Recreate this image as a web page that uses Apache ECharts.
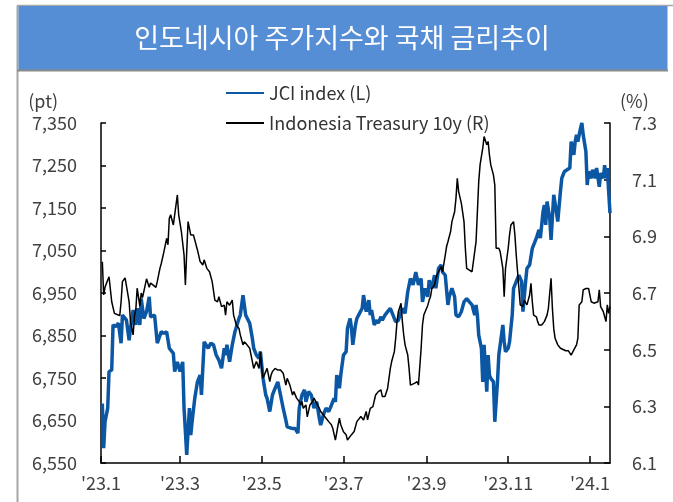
<!DOCTYPE html>
<html>
<head>
<meta charset="utf-8">
<script src="https://cdn.jsdelivr.net/npm/echarts@6/dist/echarts.min.js"></script>
<style>
html,body{margin:0;padding:0;background:#fff;}
#chart{width:673px;height:502px;}
</style>
</head>
<body>
<div id="chart"></div>
<script>
// === 데이터 ===
const TITLE = '인도네시아 주가지수와 국채 금리추이';
const NAME_JCI = 'JCI index (L)';
const NAME_UST = 'Indonesia Treasury 10y (R)';

// x축 눈금 (2개월 간격)
const tickDates = ['2023-01-01','2023-03-01','2023-05-01','2023-07-01','2023-09-01','2023-11-01','2024-01-01'];
const xMin = '2023-01-01', xMax = '2024-01-16';

// 좌축 (pt)
const leftMin = 6550, leftMax = 7350, leftStep = 100;
// 우축 (%)
const rightMin = 6.1, rightMax = 7.3, rightStep = 0.2;

// JCI index
const jci = [
  ['2023-01-02',6690],['2023-01-03',6585],['2023-01-04',6647],['2023-01-06',6679],['2023-01-07',6765],['2023-01-09',6769],
  ['2023-01-10',6875],['2023-01-12',6871],['2023-01-14',6879],['2023-01-16',6832],['2023-01-17',6898],['2023-01-20',6886],
  ['2023-01-22',6839],['2023-01-23',6866],['2023-01-25',6910],['2023-01-27',6875],['2023-01-28',6914],['2023-01-30',6875],
  ['2023-01-31',6937],
  ['2023-02-02',6890],['2023-02-04',6906],['2023-02-06',6941],['2023-02-07',6894],['2023-02-10',6898],['2023-02-12',6832],
  ['2023-02-15',6859],['2023-02-17',6855],['2023-02-19',6859],['2023-02-21',6820],['2023-02-24',6808],['2023-02-25',6765],
  ['2023-02-27',6788],
  ['2023-03-01',6765],['2023-03-03',6788],['2023-03-04',6679],['2023-03-06',6569],['2023-03-08',6679],['2023-03-09',6616],
  ['2023-03-10',6647],['2023-03-12',6702],['2023-03-14',6741],['2023-03-16',6757],['2023-03-17',6710],['2023-03-19',6835],
  ['2023-03-22',6820],['2023-03-24',6832],['2023-03-26',6828],['2023-03-28',6804],['2023-03-30',6792],
  ['2023-04-01',6773],['2023-04-03',6820],['2023-04-04',6804],['2023-04-05',6828],['2023-04-07',6788],['2023-04-09',6828],
  ['2023-04-11',6859],['2023-04-14',6890],['2023-04-15',6898],['2023-04-17',6945],['2023-04-19',6898],['2023-04-22',6879],
  ['2023-04-24',6843],['2023-04-25',6820],['2023-04-27',6804],['2023-04-29',6796],['2023-04-30',6812],
  ['2023-05-02',6749],['2023-05-04',6710],['2023-05-05',6702],['2023-05-07',6671],['2023-05-09',6710],['2023-05-11',6726],
  ['2023-05-13',6741],['2023-05-15',6710],['2023-05-17',6679],['2023-05-19',6651],['2023-05-20',6635],['2023-05-24',6631],
  ['2023-05-26',6631],['2023-05-28',6620],['2023-05-29',6679],['2023-05-31',6710],
  ['2023-06-02',6722],['2023-06-03',6694],['2023-06-05',6718],['2023-06-07',6710],['2023-06-09',6679],['2023-06-11',6694],
  ['2023-06-13',6655],['2023-06-14',6639],['2023-06-16',6663],['2023-06-18',6679],['2023-06-20',6671],['2023-06-22',6686],
  ['2023-06-24',6702],['2023-06-25',6694],['2023-06-26',6757],['2023-06-28',6726],['2023-06-29',6757],
  ['2023-07-01',6804],['2023-07-03',6812],['2023-07-04',6867],['2023-07-06',6890],['2023-07-07',6867],['2023-07-08',6828],
  ['2023-07-10',6875],['2023-07-11',6890],['2023-07-13',6902],['2023-07-15',6914],['2023-07-16',6945],['2023-07-18',6906],
  ['2023-07-20',6933],['2023-07-21',6898],['2023-07-22',6910],['2023-07-24',6875],['2023-07-26',6886],['2023-07-27',6879],
  ['2023-07-29',6894],['2023-07-30',6886],
  ['2023-08-01',6898],['2023-08-03',6906],['2023-08-05',6914],['2023-08-07',6898],['2023-08-09',6882],['2023-08-11',6886],
  ['2023-08-13',6906],['2023-08-14',6914],['2023-08-16',6902],['2023-08-18',6953],['2023-08-20',6984],['2023-08-22',6969],
  ['2023-08-24',6999],['2023-08-26',6969],['2023-08-28',6984],['2023-08-29',6929],['2023-08-31',6961],
  ['2023-09-02',6941],['2023-09-03',6980],['2023-09-05',6961],['2023-09-07',6992],['2023-09-08',6961],['2023-09-10',7008],
  ['2023-09-12',7016],['2023-09-13',6999],['2023-09-15',6992],['2023-09-17',6922],['2023-09-18',6941],['2023-09-20',6961],
  ['2023-09-22',6941],['2023-09-23',6898],['2023-09-25',6894],['2023-09-27',6906],['2023-09-29',6929],
  ['2023-10-01',6937],['2023-10-03',6929],['2023-10-05',6922],['2023-10-07',6898],['2023-10-08',6922],['2023-10-09',6898],
  ['2023-10-10',6851],['2023-10-12',6820],['2023-10-13',6741],['2023-10-14',6828],['2023-10-16',6718],['2023-10-17',6804],
  ['2023-10-18',6757],['2023-10-19',6749],['2023-10-21',6741],['2023-10-22',6647],['2023-10-24',6741],['2023-10-25',6804],
  ['2023-10-27',6851],['2023-10-28',6875],['2023-10-29',6835],['2023-10-30',6812],
  ['2023-11-01',6820],['2023-11-02',6835],['2023-11-04',6898],['2023-11-05',6961],['2023-11-07',6977],['2023-11-09',6992],
  ['2023-11-11',6977],['2023-11-12',6906],['2023-11-14',6977],['2023-11-15',7008],['2023-11-17',7016],['2023-11-19',7055],
  ['2023-11-21',7071],['2023-11-22',7079],['2023-11-24',7099],['2023-11-25',7079],['2023-11-27',7141],['2023-11-28',7157],
  ['2023-11-29',7110],['2023-11-30',7165],
  ['2023-12-02',7126],['2023-12-03',7075],['2023-12-05',7181],['2023-12-07',7141],['2023-12-08',7118],['2023-12-10',7189],
  ['2023-12-11',7220],['2023-12-13',7236],['2023-12-15',7240],['2023-12-17',7244],['2023-12-18',7306],['2023-12-20',7275],
  ['2023-12-21',7306],['2023-12-22',7322],['2023-12-23',7306],['2023-12-25',7338],['2023-12-26',7350],['2023-12-27',7322],
  ['2023-12-29',7283],['2023-12-30',7204],['2023-12-31',7236],
  ['2024-01-02',7220],['2024-01-03',7240],['2024-01-05',7220],['2024-01-06',7244],['2024-01-08',7200],['2024-01-09',7232],
  ['2024-01-11',7220],['2024-01-12',7251],['2024-01-13',7220],['2024-01-14',7244],['2024-01-15',7189],['2024-01-16',7138]
];

// 인도네시아 국채 10년 (%)
const ust = [
  ['2023-01-02',6.810],['2023-01-03',6.693],['2023-01-04',6.720],['2023-01-06',6.746],['2023-01-07',6.757],['2023-01-09',6.669],
  ['2023-01-11',6.628],['2023-01-13',6.624],['2023-01-15',6.620],['2023-01-16',6.669],['2023-01-17',6.740],['2023-01-19',6.753],
  ['2023-01-20',6.757],['2023-01-22',6.669],['2023-01-23',6.599],['2023-01-25',6.552],['2023-01-26',6.620],['2023-01-27',6.642],
  ['2023-01-28',6.717],['2023-01-30',6.654],['2023-01-31',6.700],
  ['2023-02-01',6.684],['2023-02-03',6.728],['2023-02-04',6.750],['2023-02-06',6.720],['2023-02-07',6.735],['2023-02-09',6.728],
  ['2023-02-11',6.720],['2023-02-12',6.740],['2023-02-14',6.787],['2023-02-15',6.804],['2023-02-17',6.846],['2023-02-19',6.893],
  ['2023-02-20',6.870],['2023-02-21',6.964],['2023-02-22',6.976],['2023-02-24',6.940],['2023-02-25',6.976],['2023-02-27',7.046],
  ['2023-02-28',6.976],
  ['2023-03-02',6.917],['2023-03-04',6.834],['2023-03-05',6.728],['2023-03-06',6.846],['2023-03-07',6.952],['2023-03-09',6.905],
  ['2023-03-11',6.905],['2023-03-12',6.899],['2023-03-14',6.852],['2023-03-16',6.811],['2023-03-18',6.799],['2023-03-19',6.817],
  ['2023-03-21',6.787],['2023-03-23',6.775],['2023-03-25',6.740],['2023-03-27',6.675],['2023-03-29',6.669],['2023-03-30',6.687],
  ['2023-04-01',6.652],['2023-04-03',6.657],['2023-04-04',6.622],['2023-04-05',6.669],['2023-04-07',6.657],['2023-04-09',6.675],
  ['2023-04-10',6.622],['2023-04-12',6.587],['2023-04-14',6.575],['2023-04-15',6.552],['2023-04-17',6.517],['2023-04-18',6.528],
  ['2023-04-20',6.517],['2023-04-22',6.505],['2023-04-24',6.458],['2023-04-25',6.434],['2023-04-27',6.458],['2023-04-29',6.434],
  ['2023-04-30',6.493],
  ['2023-05-01',6.434],['2023-05-02',6.399],['2023-05-04',6.423],['2023-05-05',6.434],['2023-05-07',6.387],['2023-05-08',6.411],
  ['2023-05-09',6.423],['2023-05-11',6.434],['2023-05-13',6.428],['2023-05-15',6.428],['2023-05-17',6.417],['2023-05-19',6.375],
  ['2023-05-20',6.399],['2023-05-22',6.375],['2023-05-24',6.340],['2023-05-25',6.352],['2023-05-27',6.329],['2023-05-29',6.317],
  ['2023-05-30',6.305],['2023-05-31',6.317],
  ['2023-06-01',6.293],['2023-06-03',6.305],['2023-06-04',6.263],['2023-06-06',6.305],['2023-06-08',6.317],['2023-06-09',6.329],
  ['2023-06-11',6.311],['2023-06-13',6.293],['2023-06-14',6.282],['2023-06-16',6.270],['2023-06-18',6.258],['2023-06-20',6.246],
  ['2023-06-22',6.235],['2023-06-23',6.223],['2023-06-25',6.181],['2023-06-27',6.235],['2023-06-28',6.258],['2023-06-29',6.235],
  ['2023-07-01',6.210],['2023-07-03',6.200],['2023-07-04',6.181],['2023-07-07',6.200],['2023-07-09',6.211],['2023-07-11',6.246],
  ['2023-07-12',6.240],['2023-07-14',6.264],['2023-07-16',6.252],['2023-07-18',6.282],['2023-07-19',6.252],['2023-07-21',6.293],
  ['2023-07-23',6.299],['2023-07-25',6.340],['2023-07-27',6.352],['2023-07-29',6.358],['2023-07-30',6.335],
  ['2023-08-01',6.335],['2023-08-03',6.364],['2023-08-05',6.434],['2023-08-06',6.458],['2023-08-08',6.493],['2023-08-09',6.540],
  ['2023-08-10',6.599],['2023-08-11',6.634],['2023-08-13',6.664],['2023-08-14',6.599],['2023-08-15',6.552],['2023-08-16',6.517],
  ['2023-08-18',6.481],['2023-08-19',6.434],['2023-08-20',6.375],['2023-08-21',6.381],['2023-08-23',6.381],['2023-08-25',6.387],
  ['2023-08-26',6.375],['2023-08-28',6.505],['2023-08-29',6.587],['2023-08-30',6.622],['2023-08-31',6.634],
  ['2023-09-02',6.657],['2023-09-03',6.675],['2023-09-04',6.687],['2023-09-05',6.716],['2023-09-07',6.728],['2023-09-08',6.752],
  ['2023-09-09',6.764],['2023-09-10',6.775],['2023-09-12',6.793],['2023-09-13',6.775],['2023-09-14',6.775],['2023-09-15',6.834],
  ['2023-09-16',6.864],['2023-09-17',6.881],['2023-09-19',6.917],['2023-09-20',6.952],['2023-09-22',6.987],['2023-09-23',7.034],
  ['2023-09-24',7.105],['2023-09-25',7.058],['2023-09-27',7.017],['2023-09-28',7.017],['2023-09-29',6.952],['2023-09-30',6.858],
  ['2023-10-01',6.787],['2023-10-03',6.781],['2023-10-05',6.775],['2023-10-06',6.769],['2023-10-08',6.881],['2023-10-09',6.887],
  ['2023-10-10',7.093],['2023-10-11',7.152],['2023-10-13',7.211],['2023-10-14',7.252],['2023-10-15',7.258],['2023-10-16',7.223],
  ['2023-10-17',7.235],['2023-10-18',7.187],['2023-10-19',7.152],['2023-10-21',7.116],['2023-10-22',7.081],['2023-10-23',6.858],
  ['2023-10-25',6.858],['2023-10-26',6.846],['2023-10-28',6.787],['2023-10-29',6.687],['2023-10-30',6.787],['2023-10-31',6.787],
  ['2023-11-01',6.858],['2023-11-02',6.905],['2023-11-03',6.940],['2023-11-05',6.952],['2023-11-06',6.905],['2023-11-07',6.834],
  ['2023-11-08',6.775],['2023-11-09',6.716],['2023-11-10',6.658],['2023-11-12',6.652],['2023-11-13',6.675],['2023-11-15',6.658],
  ['2023-11-17',6.693],['2023-11-18',6.734],['2023-11-19',6.669],['2023-11-20',6.622],['2023-11-22',6.616],['2023-11-23',6.599],
  ['2023-11-24',6.587],['2023-11-26',6.587],['2023-11-28',6.599],['2023-11-30',6.622],
  ['2023-12-01',6.646],['2023-12-03',6.752],['2023-12-04',6.646],['2023-12-05',6.575],['2023-12-06',6.540],['2023-12-08',6.517],
  ['2023-12-10',6.505],['2023-12-11',6.499],['2023-12-14',6.496],['2023-12-16',6.496],['2023-12-18',6.481],['2023-12-20',6.499],
  ['2023-12-22',6.517],['2023-12-23',6.540],['2023-12-24',6.658],['2023-12-26',6.669],['2023-12-27',6.711],['2023-12-29',6.716],
  ['2023-12-30',6.711],['2023-12-31',6.716],
  ['2024-01-02',6.669],['2024-01-04',6.664],['2024-01-05',6.669],['2024-01-07',6.669],['2024-01-08',6.711],['2024-01-09',6.652],
  ['2024-01-11',6.634],['2024-01-13',6.599],['2024-01-14',6.658],['2024-01-15',6.628],['2024-01-16',6.652]
];

// === 스타일 ===
const FONT = '"Noto Sans CJK KR", "Noto Sans", sans-serif';
const blue = '#0b57a4', black = '#000', txt = '#404040', headBg = '#558ed5', frame = '#a6a6a6';

const nf0 = new Intl.NumberFormat('en-US', { maximumFractionDigits: 0 });
const toTime = s => +echarts.time.parse(s);
const fmtMonth = v => { const d = new Date(v); return `'${String(d.getFullYear()).slice(2)}.${d.getMonth() + 1}`; };
const tickTimes = tickDates.map(toTime);
// 날짜 문자열 → 타임스탬프 (x축은 value 축에 타임스탬프로 올림)
const asTime = rows => rows.map(([d, v]) => [toTime(d), v]);

const axisLineK = { show: true, lineStyle: { color: black, width: 1.5 } };

const chart = echarts.init(document.getElementById('chart'), null, { renderer: 'canvas' });

chart.setOption({
  animation: false,
  textStyle: { fontFamily: FONT },
  graphic: [
    // 바깥 테두리 (좌/상)
    { type: 'line', shape: { x1: 17.5, y1: 5.5, x2: 17.5, y2: 502 }, style: { stroke: frame, lineWidth: 2 }, silent: true },
    { type: 'line', shape: { x1: 17, y1: 5.5, x2: 673, y2: 5.5 }, style: { stroke: frame, lineWidth: 1.5 }, silent: true },
    // 제목 띠
    { type: 'rect', shape: { x: 18.5, y: 6, width: 649, height: 64 }, style: { fill: headBg }, silent: true },
    { type: 'line', shape: { x1: 17, y1: 70.5, x2: 668, y2: 70.5 }, style: { stroke: '#8a8a8a', lineWidth: 2 }, silent: true },
    { type: 'text', x: 342, y: 38, style: { text: TITLE, fill: '#fff', font: `27px ${FONT}`, textAlign: 'center', textVerticalAlign: 'middle' }, silent: true }
  ],
  legend: {
    orient: 'vertical', left: 225, top: 84, padding: 0,
    itemWidth: 38, itemHeight: 14, itemGap: 12,
    itemStyle: { opacity: 0 },   // 선만 보이게 (심볼 숨김)
    textStyle: { color: '#333', fontSize: 18, fontFamily: FONT },
    data: [NAME_JCI, NAME_UST]
  },
  grid: { left: 101, right: 63, top: 123, bottom: 39 },
  xAxis: {
    type: 'value', min: toTime(xMin), max: toTime(xMax),
    axisLine: axisLineK,
    axisTick: { show: true, inside: true, length: 7, lineStyle: { color: black, width: 1.5 }, customValues: tickTimes },
    axisLabel: { color: txt, fontSize: 18, fontFamily: FONT, margin: 11, hideOverlap: false,
      customValues: tickTimes, formatter: fmtMonth },
    splitLine: { show: false }
  },
  yAxis: [
    {
      type: 'value', position: 'left', min: leftMin, max: leftMax, interval: leftStep,
      name: '(pt)', nameLocation: 'end', nameGap: 13,
      nameTextStyle: { color: txt, fontSize: 18, fontFamily: FONT, align: 'right', padding: [0, 43, 0, 0] },
      axisLine: axisLineK,
      axisTick: { show: true, inside: true, length: 5, lineStyle: { color: black, width: 1.5 } },
      axisLabel: { color: txt, fontSize: 18, fontFamily: FONT, margin: 24, formatter: v => nf0.format(v) },
      splitLine: { show: false }
    },
    {
      type: 'value', position: 'right', min: rightMin, max: rightMax, interval: rightStep,
      name: '(%)', nameLocation: 'end', nameGap: 13,
      nameTextStyle: { color: txt, fontSize: 18, fontFamily: FONT, align: 'left', padding: [0, 0, 0, 10] },
      axisLine: axisLineK,
      axisTick: { show: true, inside: true, length: 6, lineStyle: { color: black, width: 1.5 } },
      axisLabel: { color: txt, fontSize: 18, fontFamily: FONT, margin: 22, formatter: v => v.toFixed(1) },
      splitLine: { show: false }
    }
  ],
  series: [
    { name: NAME_JCI, type: 'line', yAxisIndex: 0, data: asTime(jci), symbol: 'none', showSymbol: false,
      lineStyle: { color: blue, width: 3.5 }, itemStyle: { color: blue }, z: 2 },
    { name: NAME_UST, type: 'line', yAxisIndex: 1, data: asTime(ust), symbol: 'none', showSymbol: false,
      lineStyle: { color: black, width: 1.5 }, itemStyle: { color: black }, z: 3 }
  ]
});
</script>
</body>
</html>
